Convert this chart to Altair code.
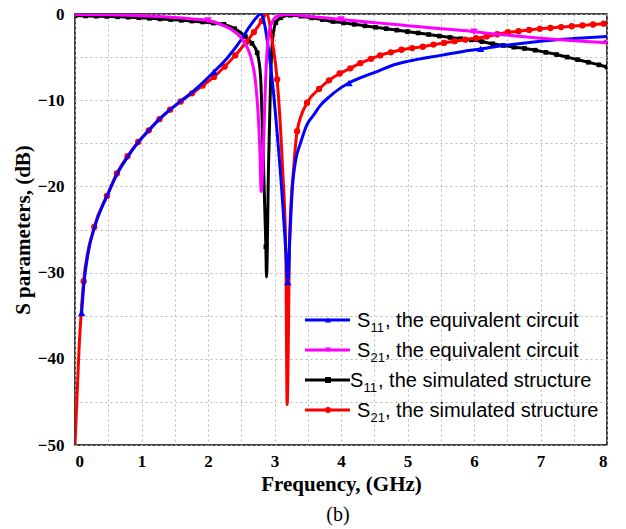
import altair as alt
import pandas as pd

# ---------------- data ----------------
# S11, the equivalent circuit (blue, triangle-up markers)
s11_eq_f = [0.10, 0.13, 0.20, 0.30, 0.40, 0.50, 0.63, 0.79, 0.95, 1.11, 1.27, 1.43, 1.59, 1.76,
            1.89, 2.09, 2.29, 2.49, 2.64, 2.72, 2.79, 2.84, 2.89, 2.97, 3.04, 3.12, 3.17, 3.20,
            3.23, 3.27, 3.32, 3.39, 3.49, 3.59, 3.69, 3.84, 3.99, 4.12, 4.29, 4.50, 4.84, 5.00,
            5.50, 5.95, 6.10, 6.50, 7.00, 7.50, 8.00]
s11_eq_db = [-34.7, -31.6, -27.6, -24.6, -22.5, -20.8, -18.6, -16.6, -14.9, -13.5, -12.2, -11.1, -10.1, -9.1,
             -8.2, -6.7, -5.1, -3.1, -1.3, -0.5, 0.0, -0.8, -3.0, -8.0, -13.8, -21.6, -27.5, -31.1,
             -26.0, -20.0, -16.9, -15.0, -12.8, -11.7, -10.6, -9.5, -8.6, -8.0, -7.4, -6.8, -5.8, -5.5,
             -4.8, -4.2, -4.05, -3.6, -3.15, -2.85, -2.6]
s11_eq_mk = [1, 0, 0, 0, 0, 0, 0, 0, 0, 0, 0, 0, 0, 0,
             0, 1, 0, 0, 0, 0, 0, 0, 0, 0, 0, 0, 0, 1,
             0, 0, 0, 0, 0, 0, 0, 0, 0, 1, 0, 0, 0, 0,
             0, 0, 1, 0, 0, 0, 0]

# S21, the equivalent circuit (magenta, triangle-down markers)
s21_eq_f = [0.00, 0.50, 1.00, 1.50, 1.89, 2.00, 2.19, 2.39, 2.54, 2.64, 2.71, 2.75, 2.78, 2.80,
            2.84, 2.86, 2.89, 2.94, 3.04, 3.20, 3.50, 4.00, 4.50, 5.00, 5.50, 5.95, 6.00, 6.50,
            7.00, 7.50, 8.00]
s21_eq_db = [-0.05, -0.1, -0.2, -0.4, -0.65, -0.75, -1.2, -2.0, -3.2, -4.9, -7.6, -11.1, -15.8, -20.6,
             -13.8, -9.0, -4.1, -1.4, -0.25, -0.05, -0.25, -0.64, -1.0, -1.35, -1.7, -2.0, -2.05, -2.45,
             -2.8, -3.1, -3.35]
s21_eq_mk = [1, 0, 0, 0, 0, 1, 0, 0, 0, 0, 0, 0, 0, 0,
             0, 0, 0, 0, 0, 0, 0, 1, 0, 0, 0, 0, 1, 0,
             0, 0, 1]

# S11, the simulated structure (black, square markers)
s11_sim_f = [0.00, 0.16, 0.32, 0.48, 0.64, 0.80, 0.96, 1.12, 1.28, 1.44, 1.60, 1.76, 1.92, 2.08,
             2.24, 2.40, 2.56, 2.66, 2.74, 2.79, 2.82, 2.85, 2.87, 2.88, 2.91, 2.94, 2.97, 3.02,
             3.09, 3.24, 3.40, 3.56, 3.72, 3.88, 4.04, 4.20, 4.36, 4.52, 4.68, 4.84, 5.00, 5.16,
             5.32, 5.48, 5.64, 5.80, 5.96, 6.12, 6.28, 6.44, 6.60, 6.76, 6.92, 7.08, 7.24, 7.40,
             7.56, 7.72, 7.88, 8.00]
s11_sim_db = [-0.20, -0.22, -0.25, -0.28, -0.32, -0.37, -0.43, -0.50, -0.57, -0.65, -0.73, -0.82, -0.92, -1.05,
              -1.2, -1.7, -2.6, -3.4, -4.5, -7.2, -13.8, -21.6, -27.0, -30.5, -17.7, -8.0, -3.0, -1.0,
              -0.45, -0.15, -0.25, -0.45, -0.65, -0.87, -1.03, -1.2, -1.37, -1.54, -1.7, -1.87, -2.04, -2.2,
              -2.38, -2.56, -2.72, -2.87, -3.0, -3.2, -3.45, -3.65, -3.85, -4.0, -4.2, -4.45, -4.7, -5.0,
              -5.3, -5.6, -5.9, -6.15]
s11_sim_mk = [1, 1, 1, 1, 1, 1, 1, 1, 1, 1, 1, 1, 1, 1,
              1, 1, 1, 1, 1, 0, 0, 0, 1, 0, 0, 0, 0, 1,
              1, 1, 1, 1, 1, 1, 1, 1, 1, 1, 1, 1, 1, 1,
              1, 1, 1, 1, 1, 1, 1, 1, 1, 1, 1, 1, 1, 1,
              1, 1, 1, 1]

# S21, the simulated structure (red, circle markers)
s21_sim_f = [0.00, 0.03, 0.06, 0.09, 0.13, 0.29, 0.48, 0.63, 0.79, 0.95, 1.11, 1.27, 1.43, 1.59,
             1.76, 1.92, 2.09, 2.25, 2.41, 2.57, 2.69, 2.81, 2.88, 2.97, 3.04, 3.12, 3.17, 3.19,
             3.23, 3.29, 3.34, 3.49, 3.67, 3.82, 3.98, 4.14, 4.29, 4.45, 4.59, 4.75, 4.91, 5.07,
             5.23, 5.39, 5.55, 5.71, 5.87, 6.03, 6.19, 6.35, 6.51, 6.67, 6.83, 6.99, 7.15, 7.31,
             7.47, 7.63, 7.79, 7.95, 8.00]
s21_sim_db = [-50.0, -44.5, -39.0, -35.0, -31.0, -24.7, -21.1, -18.5, -16.5, -14.85, -13.5, -12.2, -11.1, -10.15,
              -9.2, -8.3, -7.3, -6.1, -4.8, -3.3, -2.1, -0.8, 0.0, -3.35, -7.6, -17.7, -27.4, -45.3,
              -25.4, -17.7, -13.6, -10.3, -8.7, -7.7, -6.9, -6.3, -5.7, -5.2, -4.8, -4.45, -4.15, -3.95,
              -3.8, -3.55, -3.35, -3.15, -2.98, -2.8, -2.6, -2.35, -2.12, -2.0, -1.85, -1.72, -1.62, -1.52,
              -1.42, -1.32, -1.22, -1.12, -1.08]
s21_sim_mk = [0, 0, 0, 0, 1, 1, 1, 1, 1, 1, 1, 1, 1, 1,
              1, 1, 1, 1, 1, 1, 1, 1, 0, 0, 1, 0, 0, 0,
              0, 0, 1, 1, 1, 1, 1, 1, 1, 1, 1, 1, 1, 1,
              1, 1, 1, 1, 1, 1, 1, 1, 1, 1, 1, 1, 1, 1,
              1, 1, 1, 1, 0]

x_ticks = [0, 0.5, 1, 1.5, 2, 2.5, 3, 3.5, 4, 4.5, 5, 5.5, 6, 6.5, 7, 7.5, 8]
y_ticks = [-50, -45, -40, -35, -30, -25, -20, -15, -10, -5, 0]

legend_colors = ["#0000FF", "#FF00FF", "#000000", "#FF0000"]
legend_shapes = ["triangle-up", "triangle-down", "square", "circle"]
legend_subs = ["11", "21", "11", "21"]
legend_rest = [", the equivalent circuit", ", the equivalent circuit",
               ", the simulated structure", ", the simulated structure"]

# ---------------- chart ----------------
W, H = 532, 431
SERIF = "Liberation Serif"

axis_style = dict(labelFont=SERIF, labelFontWeight="bold", labelFontSize=17, labelColor="black",
                  titleFont=SERIF, titleFontWeight="bold", titleFontSize=21, titleColor="black",
                  ticks=False, domain=False, grid=True, gridDash=[2, 3], gridColor="#b8b8b8",
                  gridWidth=1, labelOverlap=False)

x_enc = alt.X("f:Q", scale=alt.Scale(domain=[0, 8], nice=False, zero=False),
              axis=alt.Axis(values=x_ticks,
                            labelExpr="datum.value % 1 === 0 ? format(datum.value, 'd') : ''",
                            title="Frequency, (GHz)", labelPadding=8, titlePadding=4,
                            **axis_style))
y_enc = alt.Y("db:Q", scale=alt.Scale(domain=[-50, 0], nice=False, zero=False),
              axis=alt.Axis(values=y_ticks,
                            labelExpr="datum.value % 10 === 0 ? format(datum.value, 'd') : ''",
                            title="S parameters, (dB)", labelPadding=11, titlePadding=4,
                            **axis_style))


def frame(f, db, mk):
    return pd.DataFrame({"f": f, "db": db, "mk": mk})


series = [
    (frame(s11_sim_f, s11_sim_db, s11_sim_mk), "#000000", "square", 22),
    (frame(s21_sim_f, s21_sim_db, s21_sim_mk), "#FF0000", "circle", 40),
    (frame(s11_eq_f, s11_eq_db, s11_eq_mk), "#0000FF", "triangle-up", 55),
    (frame(s21_eq_f, s21_eq_db, s21_eq_mk), "#FF00FF", "triangle-down", 55),
]

layers = []
for df, col, shape, size in series:
    base = alt.Chart(df)
    layers.append(base.mark_line(color=col, strokeWidth=3, interpolate="monotone", clip=True)
                  .encode(x=x_enc, y=y_enc))
    layers.append(base.transform_filter("datum.mk == 1")
                  .mark_point(shape=shape, filled=True, color=col, size=size, opacity=1, clip=True)
                  .encode(x=x_enc, y=y_enc))

# legend (inside, lower right)
dummy = pd.DataFrame({"k": [0]})
row_y = [306, 336, 366, 396]
for i in range(4):
    ly = row_y[i]
    col = legend_colors[i]
    sx = 275 if i == 2 else 282
    d = alt.Chart(dummy)
    layers.append(d.mark_rule(color=col, strokeWidth=3)
                  .encode(x=alt.value(230), x2=alt.value(275), y=alt.value(ly)))
    layers.append(d.mark_point(shape=legend_shapes[i], filled=True, color=col, size=35, opacity=1)
                  .encode(x=alt.value(253), y=alt.value(ly)))
    layers.append(d.mark_text(text="S", align="left", baseline="alphabetic",
                              font="Liberation Sans", fontSize=20, color="black")
                  .encode(x=alt.value(sx), y=alt.value(ly + 7)))
    layers.append(d.mark_text(text=legend_subs[i], align="left", baseline="alphabetic",
                              font="Liberation Sans", fontSize=13, color="black")
                  .encode(x=alt.value(sx + 13.5), y=alt.value(ly + 12)))
    layers.append(d.mark_text(text=legend_rest[i], align="left", baseline="alphabetic",
                              font="Liberation Sans", fontSize=20, color="black")
                  .encode(x=alt.value(sx + 28), y=alt.value(ly + 7)))

# caption "(b)"
layers.append(alt.Chart(dummy).mark_text(text="(b)", font=SERIF, fontSize=20,
                                         color="black", baseline="middle")
              .encode(x=alt.value(263), y=alt.value(501)))

chart = alt.layer(*layers).properties(
    width=W, height=H,
    autosize=alt.AutoSizeParams(type="none"),
    padding={"left": 75, "top": 14, "right": 19, "bottom": 84},
).configure_view(
    stroke="black", strokeWidth=1.5
)

chart.save("out.html", embed_options={"renderer": "svg", "actions": False})
